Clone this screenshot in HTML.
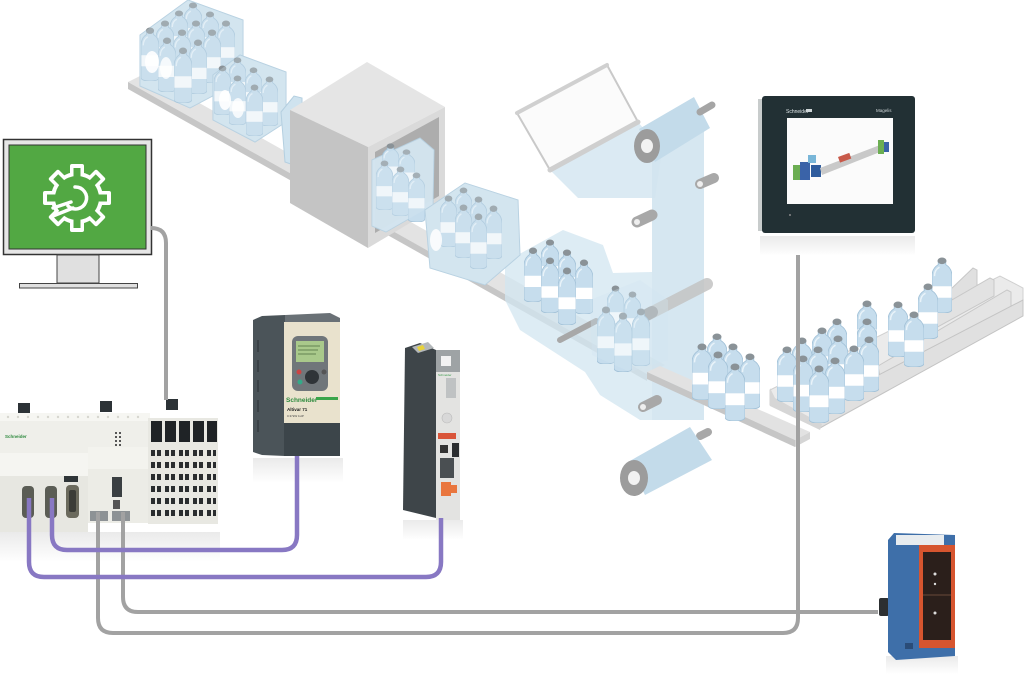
<!DOCTYPE html>
<html><head><meta charset="utf-8"><style>
html,body{margin:0;padding:0;background:#fff;}
svg{display:block;}
text{font-family:"Liberation Sans",sans-serif;}
</style></head><body>
<svg width="1024" height="678" viewBox="0 0 1024 678" xmlns="http://www.w3.org/2000/svg">
<defs>
<symbol id="b" viewBox="0 0 16 44" preserveAspectRatio="none">
<path d="M5,3 H11 V6 Q16,9 16,15 V41 Q16,44 8,44 Q0,44 0,41 V15 Q0,9 5,6 Z" fill="#c6dded" stroke="#a3c2d8" stroke-width=".7"/>
<path d="M2,15 Q2,10 6,8" stroke="#e9f3f9" fill="none" stroke-width="1.2"/>
<rect x="0.3" y="23" width="15.4" height="9" fill="#ffffff"/>
<ellipse cx="8" cy="3" rx="3.6" ry="2.6" fill="#8a9297"/>
</symbol>
<linearGradient id="refl" x1="0" y1="0" x2="0" y2="1"><stop offset="0" stop-color="#eaeaea"/><stop offset="1" stop-color="#fff"/></linearGradient>
</defs>
<rect width="1024" height="678" fill="#fff"/>

<!-- ===== conveyor 1 ===== -->
<polygon points="128,82 146,73 665,365 647,374" fill="#e3e3e3"/>
<polygon points="128,82 647,374 647,381 128,89" fill="#c6c6c6"/>

<!-- pack 1 -->
<polygon points="140,35 188,0 243,20 243,80 190,108 140,86" fill="#d3e5f0" stroke="#b4cfe0"/>
<use href="#b" x="184" y="2" width="18" height="50"/>
<use href="#b" x="170" y="10" width="18" height="50"/>
<use href="#b" x="201" y="11" width="18" height="50"/>
<use href="#b" x="156" y="20" width="18" height="52"/>
<use href="#b" x="187" y="20" width="18" height="52"/>
<use href="#b" x="217" y="20" width="18" height="52"/>
<use href="#b" x="141" y="27" width="18" height="54"/>
<use href="#b" x="173" y="29" width="18" height="54"/>
<use href="#b" x="203" y="29" width="18" height="54"/>
<use href="#b" x="158" y="37" width="18" height="55"/>
<use href="#b" x="189" y="39" width="18" height="55"/>
<use href="#b" x="174" y="47" width="18" height="56"/>
<polygon points="140,35 188,0 243,20 243,80 190,108 140,86" fill="#d3e5f0" opacity=".3"/>
<ellipse cx="152" cy="62" rx="7" ry="11" fill="#fff" opacity=".9"/>
<ellipse cx="166" cy="68" rx="6" ry="11" fill="#fff" opacity=".8"/>

<!-- pack 2 -->
<polygon points="213,75 240,55 286,72 286,122 255,142 213,120" fill="#d3e5f0" stroke="#b4cfe0"/>
<use href="#b" x="229" y="57" width="17" height="48"/>
<use href="#b" x="214" y="65" width="17" height="50"/>
<use href="#b" x="245" y="67" width="17" height="48"/>
<use href="#b" x="229" y="75" width="17" height="50"/>
<use href="#b" x="261" y="76" width="17" height="50"/>
<use href="#b" x="246" y="84" width="17" height="52"/>
<polygon points="213,75 240,55 286,72 286,122 255,142 213,120" fill="#d3e5f0" opacity=".3"/>
<ellipse cx="225" cy="100" rx="6" ry="10" fill="#fff" opacity=".9"/>
<ellipse cx="238" cy="108" rx="6" ry="10" fill="#fff" opacity=".8"/>

<!-- pack 3 partial -->
<polygon points="281,112 294,96 302,98 302,168 285,162" fill="#cfe3ef" stroke="#b4cfe0"/>

<!-- ===== box ===== -->
<polygon points="290,110 367,62 445,107 368,147" fill="#e5e5e5"/>
<polygon points="290,110 368,147 368,248 290,203" fill="#c4c4c4"/>
<polygon points="368,147 445,107 445,202 368,248" fill="#dadada"/>
<polygon points="375,152 439,117 439,196 375,233" fill="#adadad"/>

<!-- pack 4 emerging -->
<polygon points="372,160 420,138 434,150 433,205 386,232 372,226" fill="#d3e5f0" stroke="#b4cfe0" opacity=".95"/>
<use href="#b" x="382" y="143" width="17" height="45"/>
<use href="#b" x="398" y="149" width="17" height="45"/>
<use href="#b" x="376" y="160" width="17" height="50"/>
<use href="#b" x="392" y="166" width="17" height="50"/>
<use href="#b" x="408" y="172" width="17" height="50"/>
<polygon points="372,160 420,138 434,150 433,205 386,232 372,226" fill="#d3e5f0" opacity=".35"/>

<!-- ===== film / wrapping ===== -->
<polygon points="505,262 563,230 603,245 613,273 652,272 652,420 640,420 600,395 585,372 520,330 505,300" fill="#d2e5f0" opacity=".75"/>
<rect x="652" y="122" width="52" height="298" fill="#cfe3ef" opacity=".85"/>
<polygon points="550,170 638,122 662,150 655,198 578,198" fill="#d2e5f0" opacity=".8"/>
<!-- frame -->
<polygon points="517,113 607,65 638,122 550,170" fill="#fbfbfb" stroke="#c9c9c9" stroke-width="2"/>
<line x1="517" y1="113" x2="607" y2="65" stroke="#d0d0d0" stroke-width="4" stroke-linecap="round"/>
<line x1="550" y1="170" x2="638" y2="122" stroke="#cfcfcf" stroke-width="5" stroke-linecap="round"/>
<!-- top roll -->
<polygon points="639,129 694,97 710,128 655,162" fill="#c3dbea"/>
<ellipse cx="647" cy="146" rx="13" ry="17" fill="#9c9c9c"/>
<ellipse cx="647" cy="146" rx="6" ry="7" fill="#f2f2f2"/>
<line x1="700" y1="112" x2="712" y2="105" stroke="#a5a5a5" stroke-width="7" stroke-linecap="round"/>
<!-- small rollers -->
<line x1="700" y1="184" x2="714" y2="178" stroke="#a8a8a8" stroke-width="10" stroke-linecap="round"/>
<circle cx="700" cy="184" r="3" fill="#eee"/>
<line x1="637" y1="222" x2="652" y2="215" stroke="#a8a8a8" stroke-width="11" stroke-linecap="round"/>
<circle cx="637" cy="222" r="3" fill="#eee"/>
<line x1="641" y1="318" x2="707" y2="284" stroke="#c4c4c4" stroke-width="12" stroke-linecap="round" opacity=".85"/>
<line x1="641" y1="318" x2="652" y2="312" stroke="#a0a0a0" stroke-width="12" stroke-linecap="round"/>
<circle cx="641" cy="318" r="3" fill="#eee"/>
<line x1="643" y1="407" x2="657" y2="400" stroke="#a8a8a8" stroke-width="10" stroke-linecap="round"/>
<circle cx="643" cy="407" r="3" fill="#eee"/>
<line x1="700" y1="436" x2="708" y2="432" stroke="#a8a8a8" stroke-width="8" stroke-linecap="round"/>
<line x1="560" y1="340" x2="596" y2="321" stroke="#a8a8a8" stroke-width="6" stroke-linecap="round"/>
<!-- bottom roll -->
<polygon points="628,462 690,427 712,460 645,495" fill="#c3dbea"/>
<ellipse cx="634" cy="478" rx="14" ry="18" fill="#9c9c9c"/>
<ellipse cx="634" cy="478" rx="6" ry="7" fill="#f2f2f2"/>

<!-- pack 5 -->
<polygon points="425,210 465,183 518,200 520,255 485,285 430,268" fill="#d3e5f0" stroke="#b4cfe0"/>
<use href="#b" x="455" y="187" width="17" height="50"/>
<use href="#b" x="440" y="195" width="17" height="52"/>
<use href="#b" x="470" y="196" width="17" height="52"/>
<use href="#b" x="455" y="204" width="17" height="54"/>
<use href="#b" x="485" y="205" width="17" height="54"/>
<use href="#b" x="470" y="213" width="17" height="56"/>
<polygon points="425,210 465,183 518,200 520,255 485,285 430,268" fill="#d3e5f0" opacity=".3"/>
<ellipse cx="436" cy="240" rx="6" ry="11" fill="#fff" opacity=".85"/>

<!-- pack 6 -->
<use href="#b" x="541" y="239" width="18" height="52"/>
<use href="#b" x="524" y="247" width="18" height="55"/>
<use href="#b" x="558" y="249" width="18" height="54"/>
<use href="#b" x="541" y="257" width="18" height="56"/>
<use href="#b" x="575" y="259" width="18" height="55"/>
<use href="#b" x="558" y="267" width="18" height="58"/>

<!-- pack 7 in film -->
<use href="#b" x="607" y="285" width="17" height="52"/>
<use href="#b" x="624" y="291" width="17" height="52"/>
<use href="#b" x="597" y="306" width="18" height="58"/>
<use href="#b" x="614" y="312" width="18" height="60"/>
<use href="#b" x="632" y="308" width="18" height="58"/>
<polygon points="590,300 640,280 668,300 668,360 630,372 592,355" fill="#d0e4f0" opacity=".35"/>

<!-- ===== conveyor 2 ===== -->
<polygon points="647,372 660,366 810,432 795,440" fill="#e2e2e2"/>
<polygon points="647,372 795,440 795,447 647,379" fill="#c6c6c6"/>
<polygon points="795,440 810,432 810,439 795,447" fill="#d5d5d5"/>
<use href="#b" x="707" y="333" width="20" height="55"/>
<use href="#b" x="692" y="343" width="20" height="57"/>
<use href="#b" x="723" y="343" width="20" height="57"/>
<use href="#b" x="708" y="351" width="20" height="58"/>
<use href="#b" x="740" y="353" width="20" height="56"/>
<use href="#b" x="725" y="363" width="20" height="58"/>

<!-- ===== right tray ===== -->
<polygon points="770,390 1000,276 1023,288 1023,306 820,428 770,405" fill="#ebebeb" stroke="#d0d0d0"/>
<!-- back walls -->
<polygon points="950,290 973,268 977,270 977,286 952,300" fill="#e0e0e0" stroke="#c8c8c8"/>
<polygon points="900,330 990,278 994,280 994,296 903,346" fill="#e2e2e2" stroke="#c8c8c8"/>
<polygon points="878,366 1007,290 1011,292 1011,308 881,382" fill="#e4e4e4" stroke="#c8c8c8"/>
<!-- front wall -->
<polygon points="815,408 1023,300 1023,316 820,428" fill="#e0e0e0" stroke="#c4c4c4"/>
<polygon points="770,388 770,406 820,430 822,424 775,398" fill="#d6d6d6"/>
<use href="#b" x="932" y="257" width="20" height="56"/>
<use href="#b" x="918" y="283" width="20" height="56"/>
<use href="#b" x="857" y="300" width="20" height="56"/>
<use href="#b" x="888" y="301" width="20" height="56"/>
<use href="#b" x="904" y="311" width="20" height="56"/>
<use href="#b" x="827" y="318" width="20" height="56"/>
<use href="#b" x="857" y="318" width="20" height="56"/>
<use href="#b" x="812" y="327" width="20" height="56"/>
<use href="#b" x="828" y="335" width="20" height="56"/>
<use href="#b" x="859" y="336" width="20" height="56"/>
<use href="#b" x="792" y="337" width="20" height="56"/>
<use href="#b" x="844" y="345" width="20" height="56"/>
<use href="#b" x="777" y="346" width="20" height="56"/>
<use href="#b" x="808" y="346" width="20" height="56"/>
<use href="#b" x="793" y="355" width="20" height="57"/>
<use href="#b" x="825" y="357" width="20" height="57"/>
<use href="#b" x="809" y="365" width="20" height="58"/>

<!-- ===== HMI ===== -->
<rect x="760" y="236" width="155" height="20" fill="url(#refl)"/>
<rect x="758" y="99" width="8" height="132" fill="#c8cccc"/>
<rect x="762" y="96" width="153" height="137" rx="3" fill="#223034"/>
<rect x="787" y="118" width="106" height="86" fill="#fbfbfb"/>
<text x="786" y="113" font-size="5" fill="#dfe6e8">Schneider</text>
<rect x="806" y="109" width="6" height="3" fill="#cfd6d8"/>
<text x="876" y="112" font-size="4.5" fill="#cfd6d8">Magelis</text>
<g>
<rect x="793" y="165" width="8" height="15" fill="#6cae52"/>
<rect x="800" y="162" width="10" height="18" fill="#3a63a8"/>
<rect x="808" y="155" width="8" height="8" fill="#79b6d8"/>
<rect x="811" y="165" width="10" height="12" fill="#2f5c9d"/>
<polygon points="820,168 880,145 880,152 822,175" fill="#c9c9c9"/>
<rect x="838" y="157" width="12" height="6" fill="#c85a4a" transform="rotate(-20 838 157)"/>
<rect x="878" y="140" width="6" height="14" fill="#6cae52"/>
<rect x="884" y="142" width="5" height="10" fill="#3a63a8"/>
</g>
<circle cx="790" cy="215" r="1" fill="#888"/>

<!-- ===== monitor ===== -->
<rect x="3.5" y="139.5" width="148" height="115" fill="#e6e6e6" stroke="#333" stroke-width="1.5"/>
<rect x="9" y="145" width="137" height="104" fill="#52a843" stroke="#333" stroke-width="1"/>
<rect x="57" y="255" width="42" height="28" fill="#e0e0e0" stroke="#444" stroke-width="1"/>
<rect x="19.5" y="283.5" width="118" height="4.5" fill="#e0e0e0" stroke="#444" stroke-width="1"/>
<g transform="translate(77,198)">
<g fill="#ffffff">
<circle r="26"/>
<rect x="-7" y="-34" width="14" height="16" rx="2"/>
<rect x="-7" y="-34" width="14" height="16" rx="2" transform="rotate(45)"/>
<rect x="-7" y="-34" width="14" height="16" rx="2" transform="rotate(90)"/>
<rect x="-7" y="-34" width="14" height="16" rx="2" transform="rotate(135)"/>
<rect x="-7" y="-34" width="14" height="16" rx="2" transform="rotate(180)"/>
<rect x="-7" y="-34" width="14" height="16" rx="2" transform="rotate(225)"/>
<rect x="-7" y="-34" width="14" height="16" rx="2" transform="rotate(270)"/>
<rect x="-7" y="-34" width="14" height="16" rx="2" transform="rotate(315)"/>
</g>
<g fill="#52a843">
<circle r="22"/>
<rect x="-3.5" y="-30" width="7" height="12"/>
<rect x="-3.5" y="-30" width="7" height="12" transform="rotate(45)"/>
<rect x="-3.5" y="-30" width="7" height="12" transform="rotate(90)"/>
<rect x="-3.5" y="-30" width="7" height="12" transform="rotate(135)"/>
<rect x="-3.5" y="-30" width="7" height="12" transform="rotate(180)"/>
<rect x="-3.5" y="-30" width="7" height="12" transform="rotate(225)"/>
<rect x="-3.5" y="-30" width="7" height="12" transform="rotate(270)"/>
<rect x="-3.5" y="-30" width="7" height="12" transform="rotate(315)"/>
</g>
<path d="M-24,10 L-6,4 M-24,18 L-4,10" stroke="#fff" stroke-width="3.5" fill="none" stroke-linecap="round"/>
<path d="M-2,-11 A11,11 0 1 1 -9,8" stroke="#fff" stroke-width="3.5" fill="none" stroke-linecap="round"/>
</g>

<!-- ===== Drive ATV71 ===== -->
<rect x="253" y="458" width="90" height="25" fill="url(#refl)"/>
<polygon points="253,320 262,316 285,315 285,456 262,455 253,452" fill="#4b5459"/>
<g stroke="#3a4146" stroke-width="2">
<line x1="258" y1="340" x2="258" y2="352"/><line x1="258" y1="360" x2="258" y2="372"/>
<line x1="258" y1="380" x2="258" y2="392"/><line x1="258" y1="400" x2="258" y2="412"/>
<line x1="258" y1="420" x2="258" y2="432"/>
</g>
<polygon points="285,315 330,313 340,318 340,325 285,325" fill="#6a7176"/>
<rect x="284" y="322" width="56" height="102" fill="#e9e2cd"/>
<rect x="284" y="423" width="56" height="33" fill="#3c454a"/>
<rect x="292" y="336" width="36" height="55" rx="6" fill="#70767a"/>
<rect x="296" y="341" width="28" height="21" fill="#a9c98b"/>
<g stroke="#4c6a3c" stroke-width=".8"><line x1="298" y1="346" x2="320" y2="346"/><line x1="298" y1="350" x2="318" y2="350"/><line x1="298" y1="354" x2="316" y2="354"/></g>
<circle cx="312" cy="377" r="7" fill="#2f3438"/>
<circle cx="299" cy="372" r="2.5" fill="#c44"/>
<circle cx="300" cy="382" r="2.5" fill="#3a8"/>
<circle cx="324" cy="372" r="2.5" fill="#555"/>
<text x="286" y="402" font-size="6.5" fill="#2e8a3e" font-weight="bold">Schneider</text>
<rect x="316" y="397" width="22" height="3" fill="#3aa54a"/>
<text x="287" y="411" font-size="4.5" fill="#222" font-weight="bold">Altivar 71</text>
<text x="287" y="417" font-size="3" fill="#444">0.37kW 1HP</text>

<!-- ===== Servo ===== -->
<rect x="403" y="520" width="60" height="20" fill="url(#refl)"/>
<polygon points="405,348 420,343 436,350 436,518 403,510" fill="#3e4549"/>
<polygon points="412,347 428,342 434,348 418,353" fill="#b4b8ba"/>
<polygon points="417,347 423,345 425,349 419,351" fill="#e8d23a"/>
<rect x="436" y="350" width="24" height="170" fill="#e3e3e1"/>
<rect x="436" y="350" width="24" height="22" fill="#9ea3a5"/>
<rect x="441" y="356" width="10" height="10" fill="#f2f2f2"/>
<rect x="446" y="378" width="10" height="20" fill="#bfc2c3"/>
<circle cx="447" cy="418" r="5" fill="#d8d8d8" stroke="#bbb" stroke-width=".6"/>
<rect x="438" y="433" width="18" height="6" fill="#d9553a"/>
<rect x="452" y="443" width="7" height="14" fill="#2a2d2f"/>
<rect x="440" y="445" width="8" height="8" fill="#333"/>
<rect x="440" y="458" width="14" height="20" fill="#4a4f52"/>
<rect x="441" y="482" width="10" height="14" fill="#e9763e"/>
<rect x="451" y="485" width="6" height="8" fill="#e9763e"/>
<text x="438" y="376" font-size="3" fill="#3a9a4a">Schneider</text>

<!-- ===== PLC ===== -->
<rect x="0" y="532" width="220" height="30" fill="url(#refl)"/>
<rect x="18" y="403" width="12" height="11" fill="#2c3236"/>
<rect x="100" y="401" width="12" height="11" fill="#2c3236"/>
<rect x="166" y="399" width="12" height="11" fill="#2c3236"/>
<rect x="0" y="413" width="150" height="40" fill="#efefea"/>
<rect x="0" y="413" width="150" height="8" fill="#f6f6f2"/>
<g fill="#d6d6cf">
<circle cx="8" cy="417" r="1.2"/><circle cx="18" cy="417" r="1.2"/><circle cx="28" cy="417" r="1.2"/><circle cx="38" cy="417" r="1.2"/><circle cx="48" cy="417" r="1.2"/><circle cx="58" cy="417" r="1.2"/><circle cx="68" cy="417" r="1.2"/><circle cx="78" cy="417" r="1.2"/><circle cx="88" cy="417" r="1.2"/><circle cx="98" cy="417" r="1.2"/><circle cx="108" cy="417" r="1.2"/><circle cx="118" cy="417" r="1.2"/><circle cx="128" cy="417" r="1.2"/><circle cx="138" cy="417" r="1.2"/>
</g>
<text x="5" y="438" font-size="4.5" fill="#2e8a3e" font-weight="bold">Schneider</text>
<text x="18" y="456" font-size="4.5" fill="#555">LM0258</text>
<g fill="#555"><rect x="115" y="432" width="2" height="2"/><rect x="119" y="432" width="2" height="2"/><rect x="115" y="436" width="2" height="2"/><rect x="119" y="436" width="2" height="2"/><rect x="115" y="440" width="2" height="2"/><rect x="119" y="440" width="2" height="2"/><rect x="115" y="444" width="2" height="2"/><rect x="119" y="444" width="2" height="2"/></g>
<rect x="0" y="453" width="92" height="24" fill="#f5f5f1"/>
<rect x="0" y="476" width="88" height="56" fill="#e7e7e1"/>
<rect x="88" y="447" width="62" height="76" fill="#ecece6"/>
<rect x="88" y="447" width="62" height="22" fill="#f3f3ee"/>
<rect x="112" y="477" width="10" height="20" fill="#3a3f42"/>
<rect x="113" y="500" width="7" height="9" fill="#555"/>
<rect x="90" y="511" width="18" height="10" fill="#8d9295"/>
<rect x="112" y="511" width="18" height="10" fill="#8d9295"/>
<rect x="64" y="476" width="14" height="6" fill="#2f3538"/>
<rect x="22" y="486" width="12" height="32" rx="4" fill="#5b5d55"/>
<rect x="45" y="486" width="12" height="32" rx="4" fill="#5b5d55"/>
<rect x="66" y="485" width="13" height="33" rx="4" fill="#6b6a5d"/>
<rect x="69" y="490" width="7" height="22" rx="2" fill="#3b3c37"/>
<rect x="148" y="418" width="70" height="106" fill="#e8e8e2"/>
<g fill="#1f2326">
<rect x="151" y="421" width="11" height="21"/><rect x="165" y="421" width="11" height="21"/><rect x="179" y="421" width="11" height="21"/><rect x="193" y="421" width="11" height="21"/><rect x="207" y="421" width="10" height="21"/>
</g>
<g fill="#2a2d2f" id="trow">
<rect x="151" y="450" width="4" height="6"/><rect x="157" y="450" width="4" height="6"/>
<rect x="165" y="450" width="4" height="6"/><rect x="171" y="450" width="4" height="6"/>
<rect x="179" y="450" width="4" height="6"/><rect x="185" y="450" width="4" height="6"/>
<rect x="193" y="450" width="4" height="6"/><rect x="199" y="450" width="4" height="6"/>
<rect x="207" y="450" width="4" height="6"/><rect x="213" y="450" width="3" height="6"/>
</g>
<use href="#trow" y="12"/><use href="#trow" y="24"/><use href="#trow" y="36"/><use href="#trow" y="48"/><use href="#trow" y="60"/>

<!-- ===== Sensor ===== -->
<rect x="886" y="656" width="72" height="18" fill="url(#refl)"/>
<rect x="879" y="598" width="10" height="18" rx="2" fill="#2c2f31"/>
<polygon points="888,540 894,533 955,535 955,656 896,660 888,652" fill="#3e6fa9"/>
<rect x="896" y="535" width="48" height="10" fill="#e8ecef"/>
<polygon points="919,545 955,545 955,648 919,648" fill="#d6552f"/>
<rect x="923" y="552" width="28" height="88" fill="#2b1f1b"/>
<line x1="923" y1="595" x2="951" y2="595" stroke="#6a4a3a" stroke-width="1"/>
<circle cx="935" cy="574" r="1.5" fill="#ddd"/>
<circle cx="935" cy="584" r="1.2" fill="#ddd"/>
<circle cx="935" cy="613" r="1.5" fill="#ddd"/>
<rect x="905" y="643" width="8" height="6" fill="#2a4c78"/>

<!-- ===== cables ===== -->
<g fill="none" stroke-linecap="butt" stroke-linejoin="round">
<path d="M151,228 Q166,228 166,243 V400" stroke="#a2a2a2" stroke-width="4"/>
<path d="M98,512 V618 Q98,633 113,633 H783 Q798,633 798,618 V255" stroke="#a2a2a2" stroke-width="4"/>
<path d="M123,512 V597 Q123,612 138,612 H878" stroke="#a2a2a2" stroke-width="4"/>
<path d="M52,498 V535 Q52,550 67,550 H282 Q297,550 297,535 V456" stroke="#8878c3" stroke-width="4.5"/>
<path d="M29,498 V562 Q29,577 44,577 H426 Q441,577 441,562 V518" stroke="#8878c3" stroke-width="4.5"/>
</g>
</svg>
</body></html>
